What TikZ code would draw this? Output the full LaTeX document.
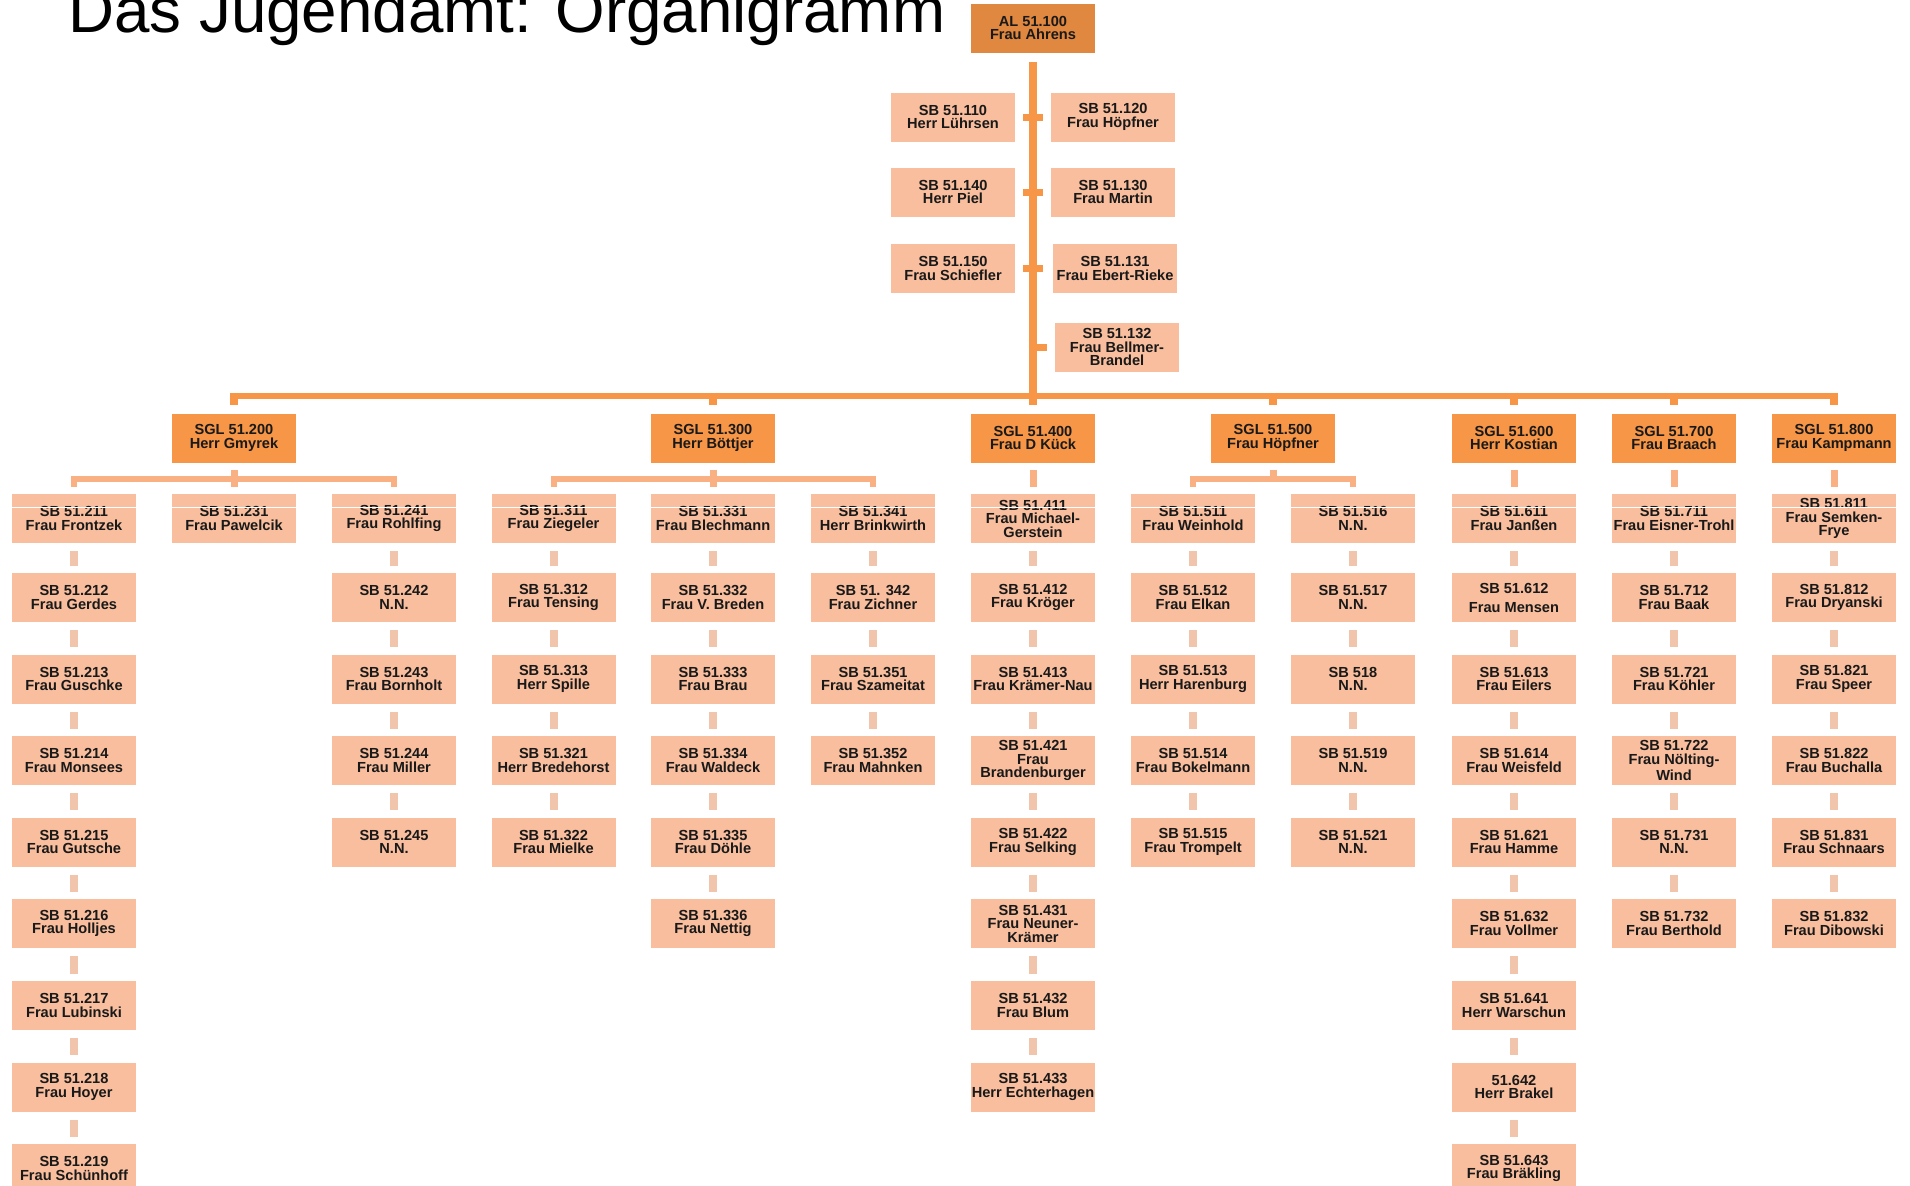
\documentclass[tikz,border=0pt]{standalone}
\usepackage{fontspec}
\setmainfont{Liberation Sans}
\usetikzlibrary{calc}
\definecolor{alfill}{RGB}{224,135,64}
\definecolor{sglfill}{RGB}{247,150,70}
\definecolor{sbfill}{RGB}{248,190,158}
\definecolor{linecol}{RGB}{247,150,70}
\definecolor{brkcol}{RGB}{249,176,130}
\definecolor{stubcol}{RGB}{241,196,172}
\definecolor{txtcol}{RGB}{25,25,25}

\newcommand\sbcol[3]{%
  \foreach \t [count=\i] in {#3} {
    \pgfmathsetmacro\yy{{518.5,597.5,679,760.5,842,923.5,1005.5,1087,1168.5}[\i-1]}
    \node[sbbox] (#1-\i) at (#2,\yy) {\t};
    \ifnum\i>1
      \pgfmathtruncatemacro\j{\i-1}
      \draw[sbstub] (#1-\j) -- (#1-\i);
    \fi
  }}

\begin{document}
\begin{tikzpicture}[x=0.5pt,y=-0.5pt,
  box/.style={minimum width=62pt,minimum height=24.5pt,inner sep=0pt,align=center,text=txtcol,
    font=\fontsize{7.3}{6.75}\selectfont\bfseries},
  albox/.style={box,fill=alfill},
  sglbox/.style={box,fill=sglfill},
  sbbox/.style={box,fill=sbfill},
  trunk/.style={draw=linecol,line width=4pt},
  bus/.style={draw=linecol,line width=3pt},
  busstub/.style={draw=linecol,line width=4pt},
  staffstub/.style={draw=linecol,line width=3.5pt,shorten <=4pt,shorten >=4pt},
  brk/.style={draw=brkcol,line width=3pt},
  brkstub/.style={draw=brkcol,line width=3.5pt},
  sbstub/.style={draw=stubcol,line width=4pt,shorten <=4pt,shorten >=3.5pt},
  titlestyle/.style={anchor=base west,inner sep=0pt,text=black,font=\fontsize{31.85}{38}\selectfont}
]
\clip (0,0) rectangle (1910,1185);
\fill[white] (0,0) rectangle (1910,1185);

% title
\node[titlestyle] (title) at (68,32) {Das Jugendamt: Organigramm};

% head
\node[albox] (al) at (1033,28) {AL 51.100\\Frau Ahrens};

% staff positions
\node[sbbox] (s110) at (953,117) {SB 51.110\\Herr Lührsen};
\node[sbbox] (s120) at (1113,117) {SB 51.120\\Frau Höpfner};
\node[sbbox] (s140) at (953,192) {SB 51.140\\Herr Piel};
\node[sbbox] (s130) at (1113,192) {SB 51.130\\Frau Martin};
\node[sbbox] (s150) at (953,268.5) {SB 51.150\\Frau Schiefler};
\node[sbbox] (s131) at (1115,268.5) {SB 51.131\\Frau Ebert-Rieke};
\node[sbbox] (s132) at (1117,347) {SB 51.132\\Frau Bellmer-\\Brandel};

% group leaders
\node[sglbox] (sgl2) at (234,438) {SGL 51.200\\Herr Gmyrek};
\node[sglbox] (sgl3) at (713,438) {SGL 51.300\\Herr Böttjer};
\node[sglbox] (sgl4) at (1033,438) {SGL 51.400\\Frau D Kück};
\node[sglbox] (sgl5) at (1273,438) {SGL 51.500\\Frau Höpfner};
\node[sglbox] (sgl6) at (1514,438) {SGL 51.600\\Herr Kostian};
\node[sglbox] (sgl7) at (1674,438) {SGL 51.700\\Frau Braach};
\node[sglbox] (sgl8) at (1834,438) {SGL 51.800\\Frau Kampmann};

% trunk and staff stubs
\draw[trunk,shorten <=4.5pt,shorten >=4pt] (al) -- (sgl4);
\draw[staffstub] (s110) -- (s120);
\draw[staffstub] (s140) -- (s130);
\draw[staffstub,shorten >=5pt] (s150) -- (s131);
\coordinate (t4) at (1033,347);
\draw[staffstub,shorten <=0pt] (t4) -- (s132);

% bus
\coordinate (busL) at (234,395.5);
\coordinate (busR) at (1834,395.5);
\draw[bus] (busL) -- (busR);
\foreach \s in {2,3,5,6,7,8} {
  \draw[busstub,shorten >=4pt] ($(sgl\s.north |- busL)+(0,-3)$) -- (sgl\s.north);
}

% columns
\sbcol{c1}{74}{{SB 51.211\\Frau Frontzek},{SB 51.212\\Frau Gerdes},{SB 51.213\\Frau Guschke},{SB 51.214\\Frau Monsees},{SB 51.215\\Frau Gutsche},{SB 51.216\\Frau Holljes},{SB 51.217\\Frau Lubinski},{SB 51.218\\Frau Hoyer},{SB 51.219\\Frau Schünhoff}}
\sbcol{c2}{234}{{SB 51.231\\Frau Pawelcik}}
\sbcol{c3}{394}{{SB 51.241\\Frau Rohlfing},{SB 51.242\\N.N.},{SB 51.243\\Frau Bornholt},{SB 51.244\\Frau Miller},{SB 51.245\\N.N.}}
\sbcol{c4}{553.5}{{SB 51.311\\Frau Ziegeler},{SB 51.312\\Frau Tensing},{SB 51.313\\Herr Spille},{SB 51.321\\Herr Bredehorst},{SB 51.322\\Frau Mielke}}
\sbcol{c5}{713}{{SB 51.331\\Frau Blechmann},{SB 51.332\\Frau V. Breden},{SB 51.333\\Frau Brau},{SB 51.334\\Frau Waldeck},{SB 51.335\\Frau Döhle},{SB 51.336\\Frau Nettig}}
\sbcol{c6}{873}{{SB 51.341\\Herr Brinkwirth},{SB 51. 342\\Frau Zichner},{SB 51.351\\Frau Szameitat},{SB 51.352\\Frau Mahnken}}
\sbcol{c7}{1033}{{SB 51.411\\Frau Michael-\\Gerstein},{SB 51.412\\Frau Kröger},{SB 51.413\\Frau Krämer-Nau},{SB 51.421\\Frau\\Brandenburger},{SB 51.422\\Frau Selking},{SB 51.431\\Frau Neuner-\\Krämer},{SB 51.432\\Frau Blum},{SB 51.433\\Herr Echterhagen}}
\sbcol{c8}{1193}{{SB 51.511\\Frau Weinhold},{SB 51.512\\Frau Elkan},{SB 51.513\\Herr Harenburg},{SB 51.514\\Frau Bokelmann},{SB 51.515\\Frau Trompelt}}
\sbcol{c9}{1353}{{SB 51.516\\N.N.},{SB 51.517\\N.N.},{SB 518\\N.N.},{SB 51.519\\N.N.},{SB 51.521\\N.N.}}
\sbcol{c10}{1514}{{SB 51.611\\Frau Janßen},{SB 51.612\\[2.75pt]Frau Mensen},{SB 51.613\\Frau Eilers},{SB 51.614\\Frau Weisfeld},{SB 51.621\\Frau Hamme},{SB 51.632\\Frau Vollmer},{SB 51.641\\Herr Warschun},{51.642\\Herr Brakel},{SB 51.643\\Frau Bräkling}}
\sbcol{c11}{1674}{{SB 51.711\\Frau Eisner-Trohl},{SB 51.712\\Frau Baak},{SB 51.721\\Frau Köhler},{SB 51.722\\Frau Nölting-\\Wind},{SB 51.731\\N.N.},{SB 51.732\\Frau Berthold}}
\sbcol{c12}{1834}{{SB 51.811\\Frau Semken-\\Frye},{SB 51.812\\Frau Dryanski},{SB 51.821\\Frau Speer},{SB 51.822\\Frau Buchalla},{SB 51.831\\Frau Schnaars},{SB 51.832\\Frau Dibowski}}

% group connectors
\coordinate (bk) at (0,479);
\draw[brkstub,shorten <=3.5pt,shorten >=3.5pt] (sgl2) -- (c2-1);
\draw[brk] ([yshift=3.5pt]c1-1.north) -- (c1-1.north |- bk) -- (c3-1.north |- bk) -- ([yshift=3.5pt]c3-1.north);
\draw[brkstub,shorten <=3.5pt,shorten >=3.5pt] (sgl3) -- (c5-1);
\draw[brk] ([yshift=3.5pt]c4-1.north) -- (c4-1.north |- bk) -- (c6-1.north |- bk) -- ([yshift=3.5pt]c6-1.north);
\draw[brkstub,shorten <=3.5pt,shorten >=3.5pt] (sgl4) -- (c7-1);
\draw[brkstub,shorten <=3.5pt] (sgl5.south) -- (sgl5.south |- bk);
\draw[brk] ([yshift=3.5pt]c8-1.north) -- (c8-1.north |- bk) -- (c9-1.north |- bk) -- ([yshift=3.5pt]c9-1.north);
\draw[brkstub,shorten <=3.5pt,shorten >=3.5pt] (sgl6) -- (c10-1);
\draw[brkstub,shorten <=3.5pt,shorten >=3.5pt] (sgl7) -- (c11-1);
\draw[brkstub,shorten <=3.5pt,shorten >=3.5pt] (sgl8) -- (c12-1);

% thin white line across the first row
\draw[white,line width=0.5pt] (0,507) -- (1910,507);
\end{tikzpicture}
\end{document}
